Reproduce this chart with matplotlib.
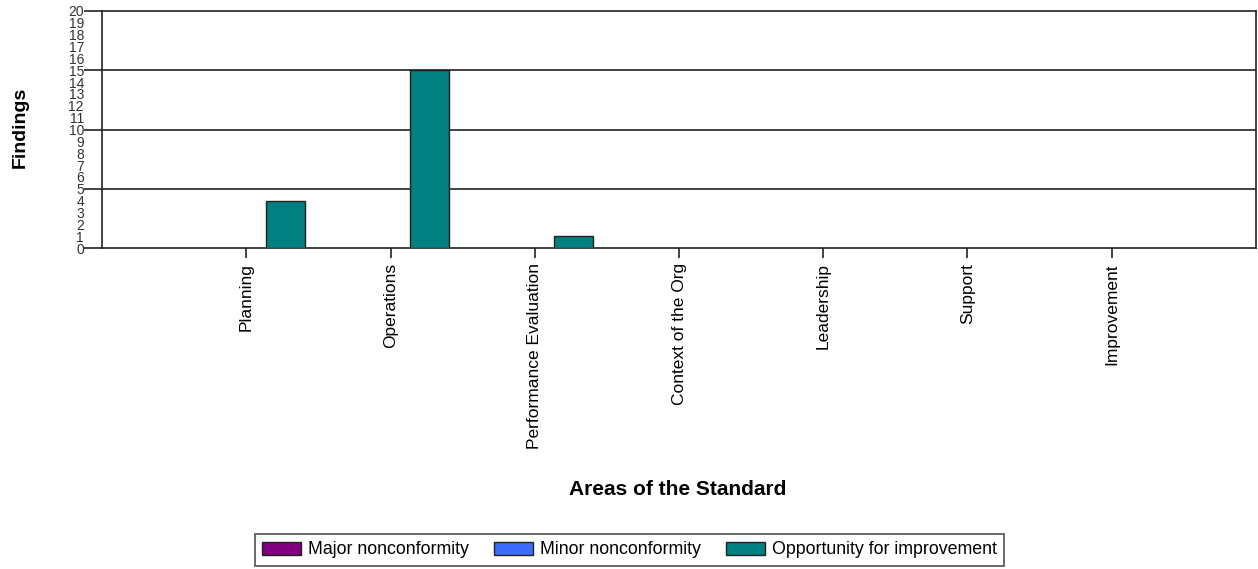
import matplotlib
matplotlib.use('Agg')
import matplotlib.pyplot as plt
from matplotlib import font_manager
import numpy as np

plt.rcParams['font.family'] = ['Liberation Sans', 'DejaVu Sans']

# Findings per area of the standard
areas = ['Planning', 'Operations', 'Performance Evaluation', 'Context of the Org',
         'Leadership', 'Support', 'Improvement']
major = [0, 0, 0, 0, 0, 0, 0]
minor = [0, 0, 0, 0, 0, 0, 0]
opportunity = [4, 15, 1, 0, 0, 0, 0]

series_names = ['Major nonconformity', 'Minor nonconformity', 'Opportunity for improvement']
series_colors = ['#800080', '#3d6bff', '#008080']

installed = {f.name for f in font_manager.fontManager.ttflist}
narrow = 'Liberation Sans Narrow' if 'Liberation Sans Narrow' in installed else 'Liberation Sans'

fig = plt.figure(figsize=(12.58, 5.69), dpi=100)
ax = fig.add_axes([0.0811, 0.5641, 0.9173, 0.4166])

x = np.arange(len(areas))
width = 0.27
for k, (vals, name, col) in enumerate(zip([major, minor, opportunity], series_names, series_colors)):
    v = np.array(vals, dtype=float)
    mask = v > 0
    ax.bar(x[mask] + (k - 1) * width, v[mask], width, color=col,
           edgecolor='#222222', linewidth=1.0, zorder=3)
    # legend proxy
    ax.bar([np.nan], [np.nan], width, color=col, edgecolor='#222222', linewidth=1.0, label=name)

ax.set_xlim(-1, len(areas))
ax.set_ylim(0, 20)

# labels on every integer, tick marks only every 5
ax.yaxis.remove_overlapping_locs = False
ax.set_yticks(range(0, 21))
ax.set_yticklabels([str(i) for i in range(0, 21)], fontsize=10, family=narrow, color='#333333')
ax.tick_params(axis='y', which='major', length=0, pad=13)
ax.set_yticks(range(0, 21, 5), minor=True)
ax.tick_params(axis='y', which='minor', length=13, width=1.2, color='#222222')

ax.set_xticks(x)
ax.set_xticklabels(areas, rotation=90, fontsize=12.5)
ax.tick_params(axis='x', length=7, width=1.2, direction='out', pad=4, color='#222222')

for yv in [5, 10, 15]:
    ax.axhline(yv, color='#222222', linewidth=1.2, zorder=1)

for s in ax.spines.values():
    s.set_color('#222222')
    s.set_linewidth(1.2)

fig.text(0.016, 0.777, 'Findings', rotation=90, fontsize=14, fontweight='bold',
         ha='center', va='center')
fig.text(0.539, 0.139, 'Areas of the Standard', fontsize=15, fontweight='bold',
         ha='center', va='center')

leg = fig.legend(loc='center', bbox_to_anchor=(0.5004, 0.0334), ncol=3, fontsize=12.8,
                 frameon=True, fancybox=False, edgecolor='#222222', handlelength=2.2,
                 handleheight=0.8, handletextpad=0.4, columnspacing=1.4,
                 borderpad=0.4)
leg.get_frame().set_linewidth(1.2)

fig.savefig('out.png', dpi=100, facecolor='white')
